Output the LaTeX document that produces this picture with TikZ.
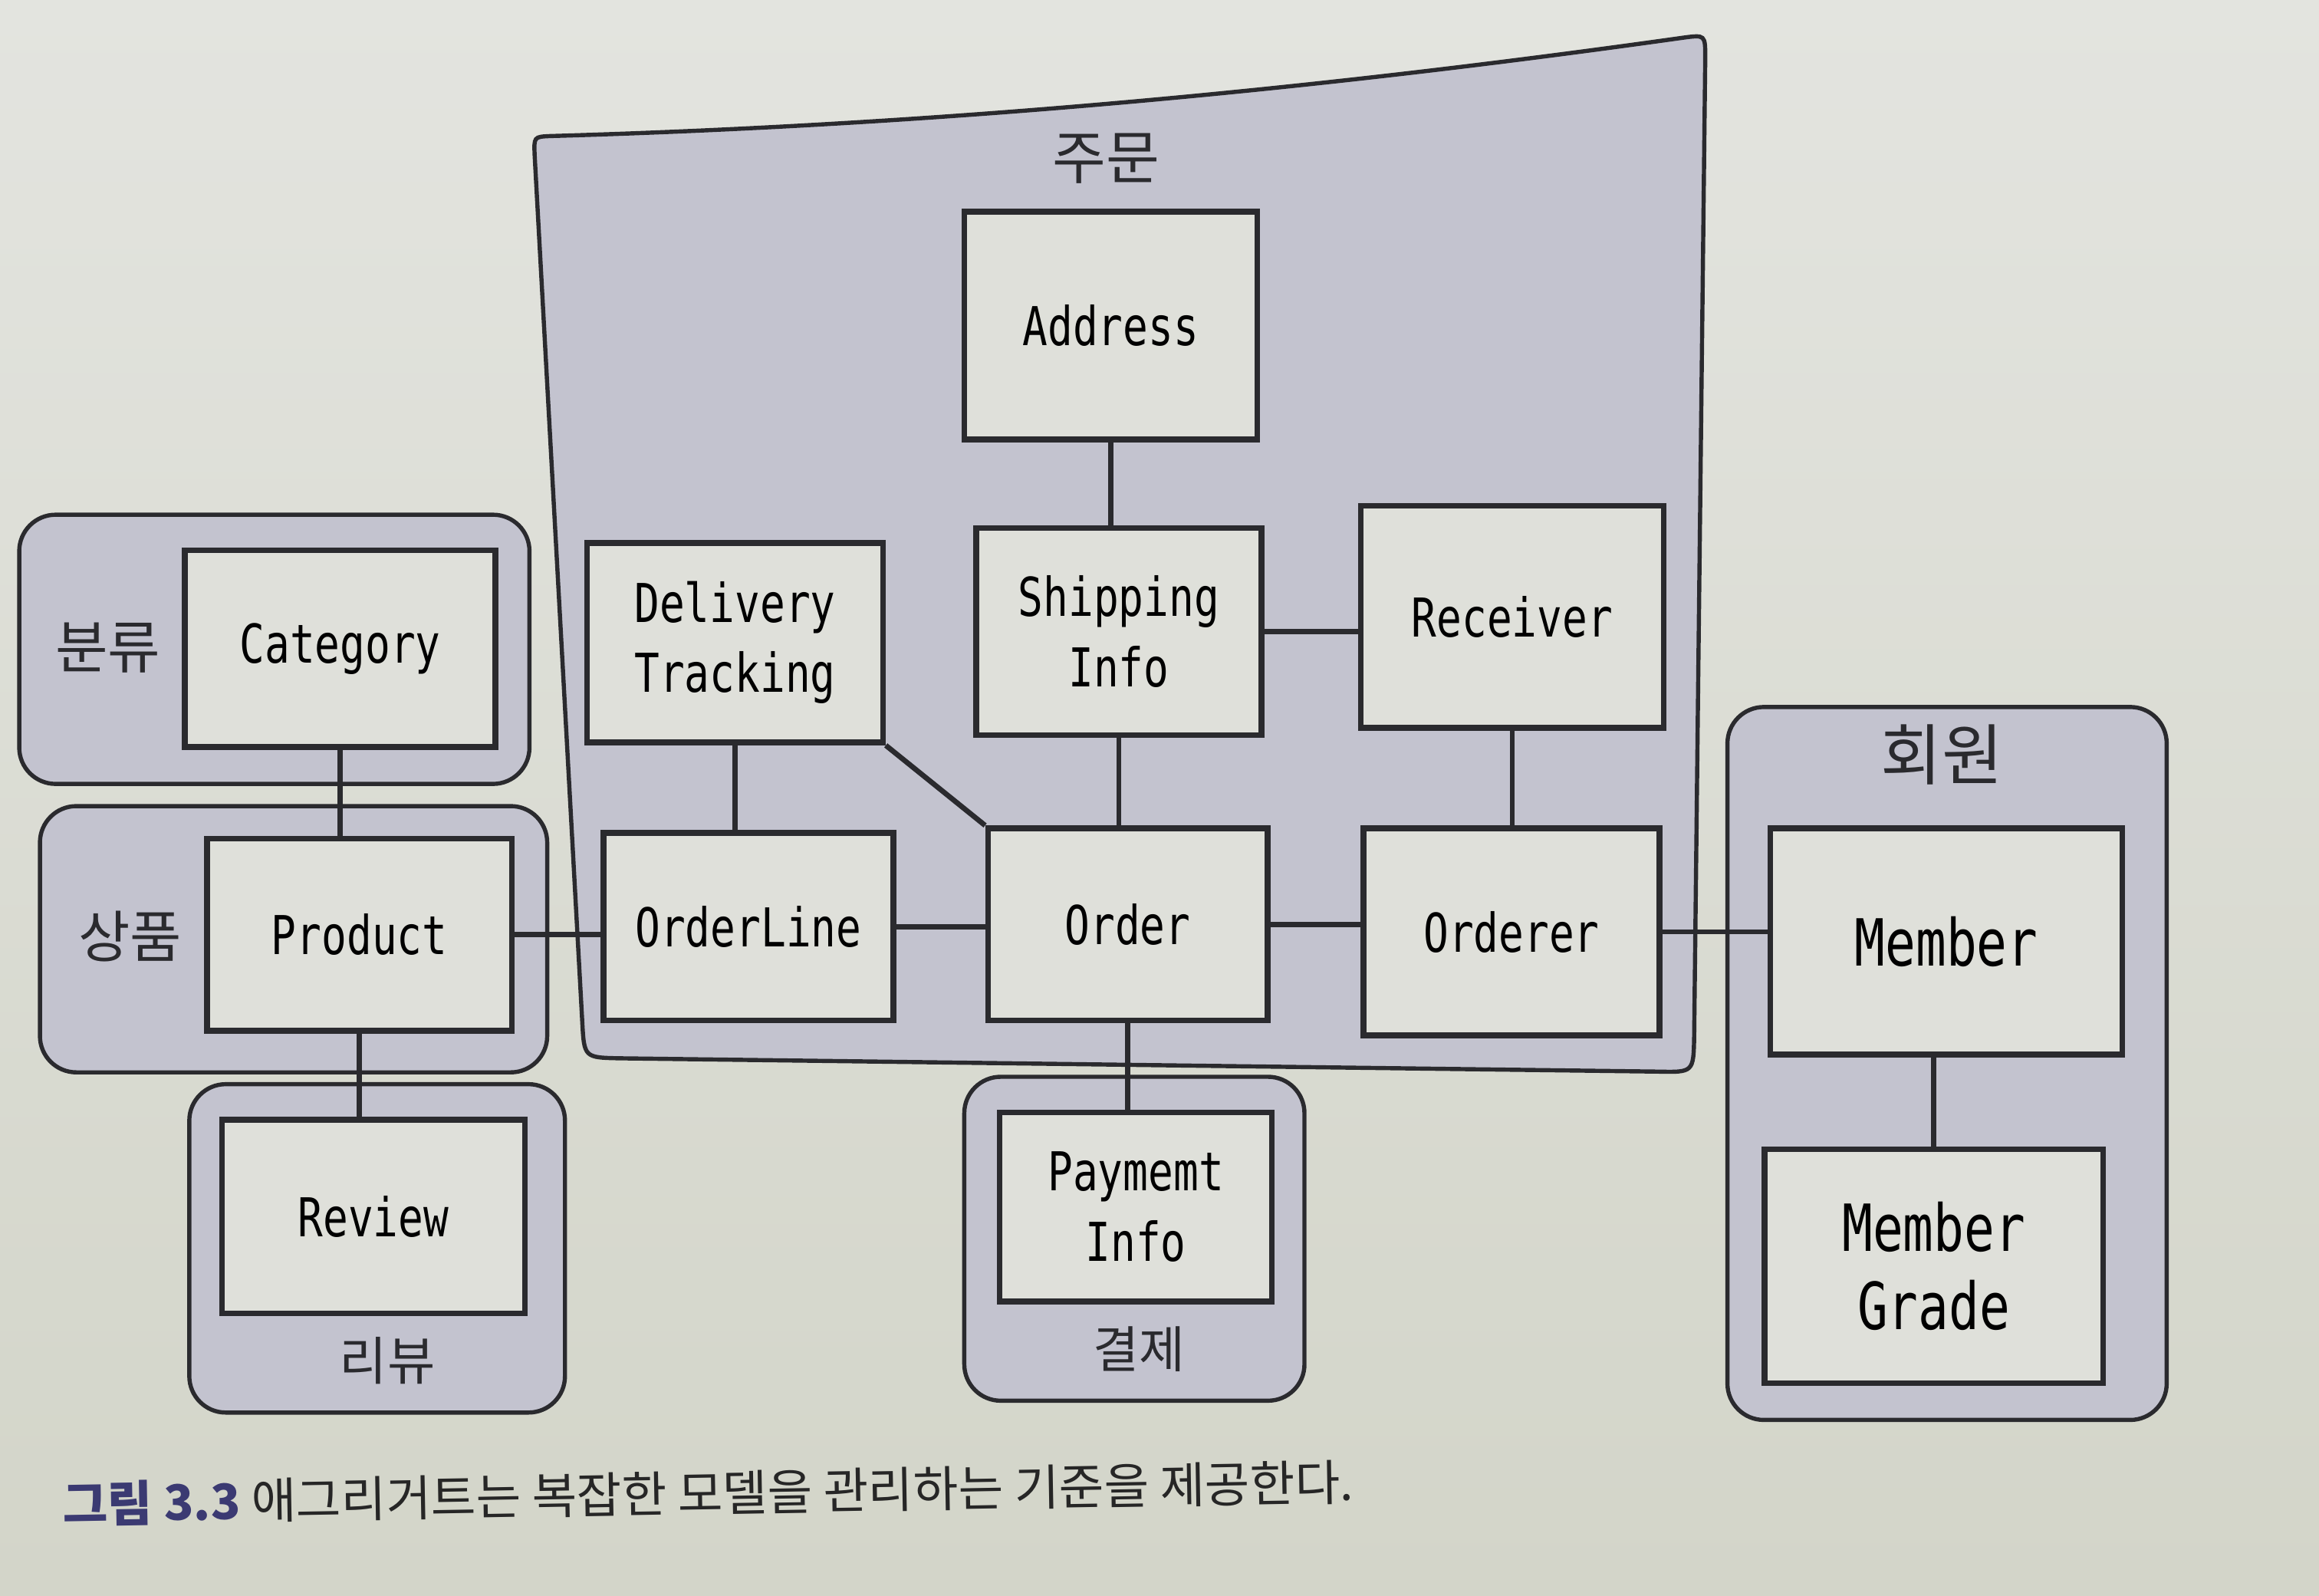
\documentclass[tikz,border=0pt]{standalone}
\usepackage{fontspec}
\newfontfamily\monofont[FakeStretch=0.78]{DejaVu Sans Mono}
\newfontfamily\krfont{Noto Sans CJK KR}
\definecolor{paperTop}{HTML}{E3E4DF}
\definecolor{paperBot}{HTML}{D3D5C9}
\definecolor{groupC}{HTML}{C3C3CF}
\definecolor{boxC}{HTML}{DFE0DA}
\definecolor{lineC}{HTML}{2A2A2E}
\definecolor{capC}{HTML}{3B3A72}

\begin{document}
\begin{tikzpicture}[
  box/.style={draw=lineC, line width=1.1pt, fill=boxC, align=center, inner sep=2pt, font=\monofont\fontsize{10.3}{13.5}\selectfont},
  bigbox/.style={box, font=\monofont\fontsize{12.5}{15}\selectfont},
  group/.style={draw=lineC, line width=0.8pt, fill=groupC, rounded corners=7pt},
  glabel/.style={font=\krfont\fontsize{10.8}{13}\selectfont, text=lineC},
  link/.style={draw=lineC, line width=1pt}]
\fill[top color=paperTop, bottom color=paperBot] (0,0) rectangle (15.68,10.79);
% aggregates
\draw[group, sharp corners] (3.72,9.87) .. controls (6.5,9.95) and (9,10.2) .. (11.38,10.535) .. controls (11.53,10.555) .. (11.53,10.40)
  -- (11.455,3.78) .. controls (11.45,3.54) .. (11.21,3.545) -- (4.19,3.635) .. controls (3.95,3.64) .. (3.937,3.88)
  -- (3.615,9.74) .. controls (3.61,9.865) .. (3.72,9.87) -- cycle;
\draw[group] (0.13,7.31) rectangle (3.58,5.49);
\draw[group] (0.27,5.34) rectangle (3.70,3.54);
\draw[group] (1.28,3.46) rectangle (3.82,1.24);
\draw[group] (6.52,3.51) rectangle (8.82,1.32);
\draw[group] (11.68,6.01) rectangle (14.65,1.19);
\node[glabel, font=\krfont\fontsize{11.2}{13}\selectfont] (orderlbl) at (7.48,9.72) {주문};
\node[glabel, font=\krfont\fontsize{11}{13}\selectfont] (catlbl) at (0.73,6.41) {분류};
\node[glabel] (prodlbl) at (0.88,4.46) {상품};
\node[glabel, font=\krfont\fontsize{10}{12}\selectfont] (revlbl) at (2.62,1.59) {리뷰};
\node[glabel, font=\krfont\fontsize{9.6}{11}\selectfont] (paylbl) at (7.70,1.67) {결제};
\node[glabel, font=\krfont\fontsize{12.8}{15}\selectfont] (memlbl) at (13.13,5.69) {회원};
% entities
\node[box, minimum width=1.98cm, minimum height=1.54cm] (address) at (7.51,8.59) {Address};
\node[box, minimum width=1.93cm, minimum height=1.40cm] (shipping) at (7.565,6.52) {Shipping\\Info};
\node[box, minimum width=2.05cm, minimum height=1.50cm] (receiver) at (10.225,6.62) {Receiver};
\node[box, minimum width=2.00cm, minimum height=1.35cm] (delivery) at (4.97,6.445) {Delivery\\Tracking};
\node[box, minimum width=1.96cm, minimum height=1.27cm] (orderline) at (5.06,4.525) {OrderLine};
\node[box, minimum width=1.89cm, minimum height=1.30cm] (order) at (7.625,4.54) {Order};
\node[box, minimum width=2.00cm, minimum height=1.40cm] (orderer) at (10.22,4.49) {Orderer};
\node[box, minimum width=2.10cm, minimum height=1.33cm] (category) at (2.30,6.405) {Category};
\node[box, minimum width=2.06cm, minimum height=1.30cm] (product) at (2.43,4.47) {Product};
\node[box, minimum width=2.05cm, minimum height=1.31cm] (review) at (2.525,2.565) {Review};
\node[box, minimum width=1.84cm, minimum height=1.28cm] (payment) at (7.68,2.63) {Paymemt\\Info};
\node[bigbox, minimum width=2.38cm, minimum height=1.53cm] (member) at (13.16,4.425) {Member};
\node[bigbox, minimum width=2.29cm, minimum height=1.58cm] (grade) at (13.075,2.23) {Member\\Grade};
% links
\draw[link] (address.south) -- (address.south |- shipping.north);
\draw[link] (shipping.east) -- (shipping.east -| receiver.west);
\draw[link] (shipping.south) -- (shipping.south |- order.north);
\draw[link] (delivery.south) -- (delivery.south |- orderline.north);
\draw[link] (delivery.south east) -- (order.north west);
\draw[link] (receiver.south) -- (receiver.south |- orderer.north);
\draw[link] (orderline.east) -- (orderline.east -| order.west);
\draw[link] (order.east) -- (order.east -| orderer.west);
\draw[link] (orderer.east) -- (orderer.east -| member.west);
\draw[link] (product.east) -- (product.east -| orderline.west);
\draw[link] (category.south) -- (category.south |- product.north);
\draw[link] (product.south) -- (product.south |- review.north);
\draw[link] (order.south) -- (order.south |- payment.north);
\draw[link] (grade.north) -- (grade.north |- member.south);
\node[anchor=west, rotate=1, text=black!85, font=\krfont\fontsize{9.4}{11}\selectfont] (caption) at (0.30,0.62) {{\bfseries\color{capC}그림 3.3} 애그리거트는 복잡한 모델을 관리하는 기준을 제공한다.};
\end{tikzpicture}
\end{document}
